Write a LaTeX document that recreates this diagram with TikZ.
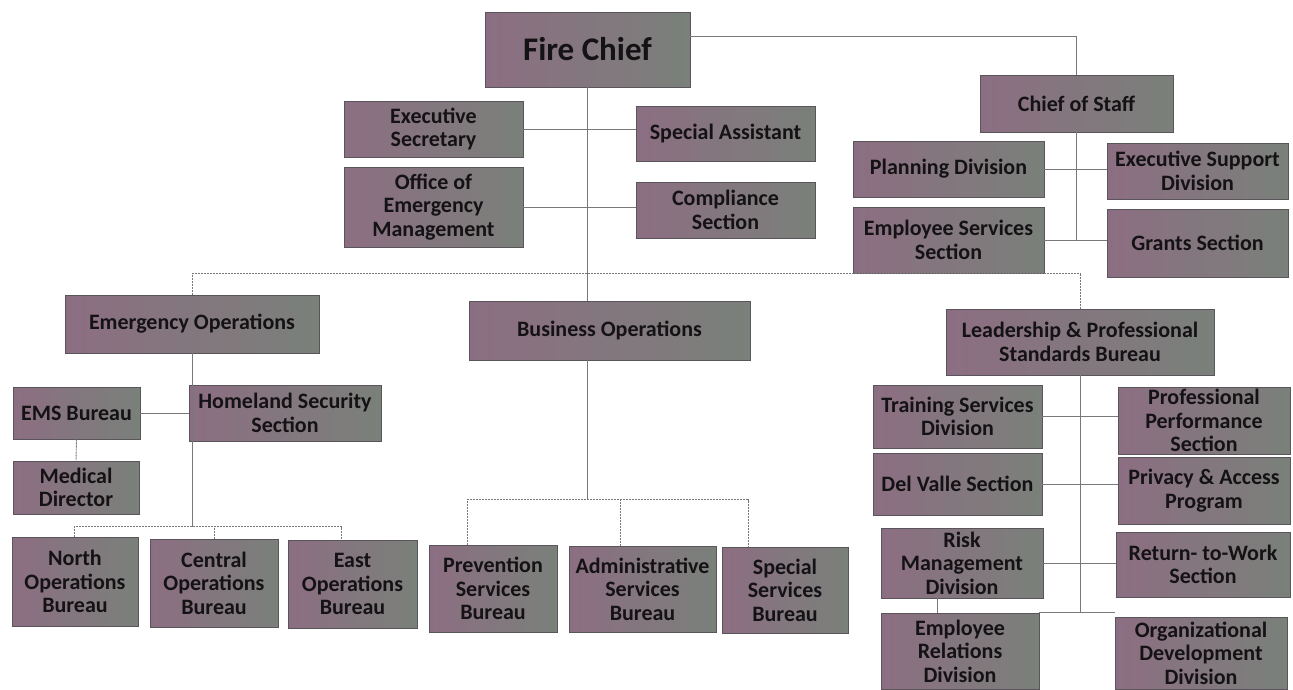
\documentclass[tikz,border=0pt]{standalone}
\usepackage{fontspec}
\setmainfont{Carlito}
\usetikzlibrary{calc}
\definecolor{boxA}{RGB}{140,110,130}
\definecolor{boxB}{RGB}{122,128,122}
\definecolor{boxEdge}{RGB}{90,85,90}
\definecolor{txt}{RGB}{20,18,20}
\definecolor{lnk}{RGB}{120,120,120}
\tikzset{
  box/.style={draw=boxEdge, line width=0.6pt, left color=boxA, right color=boxB,
    text=txt, align=center, inner sep=0pt,
    font=\bfseries\fontsize{22}{23.5}\selectfont},
  bigbox/.style={box, font=\bfseries\fontsize{33}{36}\selectfont},
  link/.style={draw=lnk, line width=0.9pt, dash pattern=on 2.2pt off 0.8pt},
}
\begin{document}
\begin{tikzpicture}[x=1pt,y=-1pt]
\useasboundingbox (0,0) rectangle (1293,689);
% top
\node[bigbox, minimum width=205pt, minimum height=75pt] (fc) at (587.5,49.5) {Fire Chief};
\node[box, minimum width=179pt, minimum height=56pt] (es) at (433.5,129) {Executive\\Secretary};
\node[box, minimum width=179pt, minimum height=80pt] (oem) at (433.5,207) {Office of\\Emergency\\Management};
\node[box, minimum width=179pt, minimum height=55pt] (sa) at (725.5,133.5) {Special Assistant};
\node[box, minimum width=179pt, minimum height=56pt] (cs) at (725.5,210) {Compliance\\Section};
% chief of staff
\node[box, minimum width=193pt, minimum height=57pt] (cos) at (1076.5,103.5) {Chief of Staff};
\node[box, minimum width=191pt, minimum height=56pt] (pd) at (948.5,169) {Planning Division};
\node[box, minimum width=191pt, minimum height=66pt] (ess) at (948.5,240) {Employee Services\\Section};
\node[box, minimum width=181pt, minimum height=56pt] (esd) at (1197.5,171) {Executive Support\\Division};
\node[box, minimum width=181pt, minimum height=68pt] (gs) at (1197.5,243) {Grants Section};
% emergency operations
\node[box, minimum width=254pt, minimum height=58pt] (eo) at (192,324) {Emergency Operations};
\node[box, minimum width=127pt, minimum height=52pt] (ems) at (76.5,413) {EMS Bureau};
\node[box, minimum width=192pt, minimum height=56pt] (hss) at (285,413) {Homeland Security\\Section};
\node[box, minimum width=126pt, minimum height=53pt] (md) at (76,487.5) {Medical\\Director};
\node[box, minimum width=126pt, minimum height=89pt] (nob) at (75,581.5) {North\\Operations\\Bureau};
\node[box, minimum width=128pt, minimum height=88pt] (cob) at (214,583) {Central\\Operations\\Bureau};
\node[box, minimum width=129pt, minimum height=88pt] (eob) at (352.5,584) {East\\Operations\\Bureau};
% business operations
\node[box, minimum width=281pt, minimum height=59pt] (bo) at (609.5,330.5) {Business Operations};
\node[box, minimum width=128pt, minimum height=87pt] (psb) at (493,588.5) {Prevention\\Services\\Bureau};
\node[box, minimum width=147pt, minimum height=86pt] (asb) at (642.5,589) {Administrative\\Services\\Bureau};
\node[box, minimum width=126pt, minimum height=86pt] (ssb) at (785,590) {Special\\Services\\Bureau};
% leadership
\node[box, minimum width=268pt, minimum height=66pt] (lpsb) at (1080,342) {Leadership \& Professional\\Standards Bureau};
\node[box, minimum width=169pt, minimum height=63pt] (tsd) at (957.5,416.5) {Training Services\\Division};
\node[box, minimum width=169pt, minimum height=62pt] (dvs) at (957.5,484) {Del Valle Section};
\node[box, minimum width=172pt, minimum height=67pt] (pps) at (1204,420.5) {Professional\\Performance\\Section};
\node[box, minimum width=172pt, minimum height=67pt] (pap) at (1204,490.5) {Privacy \& Access\\Program};
\node[box, minimum width=162pt, minimum height=70pt] (rmd) at (962,563) {Risk\\Management\\Division};
\node[box, minimum width=174pt, minimum height=65pt] (rtw) at (1203,564.5) {Return- to-Work\\Section};
\node[box, minimum width=158pt, minimum height=76pt] (erd) at (960,651) {Employee\\Relations\\Division};
\node[box, minimum width=172pt, minimum height=72pt] (odd) at (1201,653) {Organizational\\Development\\Division};
% connectors
\path[link] (fc.south) -- (fc.south |- bo.north);
\path[link] (es.east) -- (es.east -| sa.west);
\path[link] (oem.east) -- (oem.east -| cs.west);
\path[link] ($(fc.north east)!0.33!(fc.south east)$) -| (cos.north);
\path[link] (cos.south) -- (cos.south |- ess.east);
\path[link] (pd.east) -- (pd.east -| esd.west);
\path[link] (ess.east) -- (ess.east -| gs.west);
\path[link] (eo.north) -- ++(0,-21) -| (lpsb.north);
% emergency operations
\coordinate (eoj) at ($(eo.south |- nob.north)+(0,-10)$);
\path[link] (eo.south) -- (eoj);
\path[link] ([xshift=-1pt]nob.north) |- (eoj) -| ([xshift=-11pt]eob.north);
\path[link] (cob.north) -- (cob.north |- eoj);
\path[link] (ems.east) -- (ems.east -| hss.west);
\path[link] (ems.south) -- (md.north);
% business operations
\coordinate (boj) at ($(fc.south |- psb.north)+(0,-45)$);
\path[link] (fc.south |- bo.south) -- (boj);
\path[link] ([xshift=-26pt]psb.north) |- (boj) -| ([xshift=-37pt]ssb.north);
\path[link] ([xshift=-22pt]asb.north) -- ([xshift=-22pt]asb.north |- boj);
% leadership
\path[link] (lpsb.south) -- (lpsb.south |- erd.north);
\path[link] (erd.north east) -- (erd.north east -| odd.west);
\path[link] (tsd.east) -- (tsd.east -| pps.west);
\path[link] (dvs.east) -- (dvs.east -| pap.west);
\path[link] (rmd.east) -- (rmd.east -| rtw.west);
\path[link] ([xshift=-25pt]rmd.south) -- ([xshift=-25pt]rmd.south |- erd.north);
\end{tikzpicture}
\end{document}
